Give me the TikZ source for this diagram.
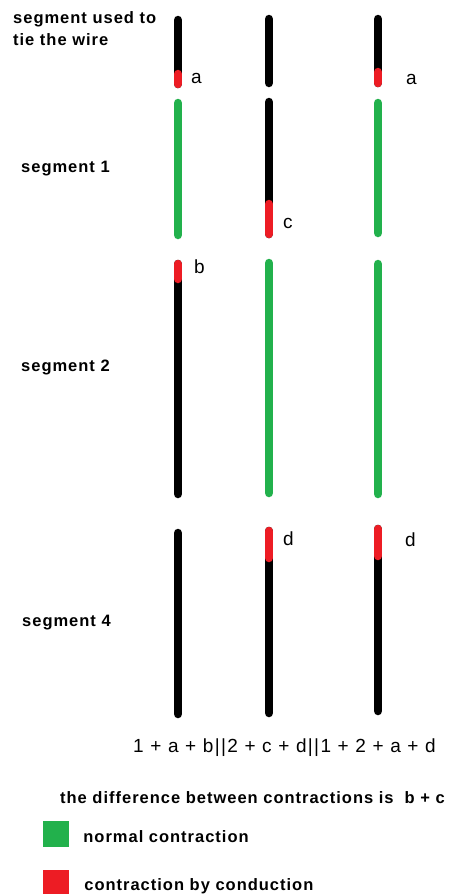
\documentclass[tikz,border=0pt]{standalone}
\usepackage{fontspec}
\setmainfont{Liberation Sans}
\newfontfamily\segfont[LetterSpace=6]{Liberation Sans}
\newfontfamily\sumfont[LetterSpace=7]{Liberation Sans}
\usepackage{tikz}
\usetikzlibrary{positioning}
\definecolor{normgreen}{RGB}{34,177,76}
\definecolor{condred}{RGB}{237,28,36}

\begin{document}
\begin{tikzpicture}[x=1pt,y=-1pt,inner sep=0pt]
 \tikzstyle{wire}=[line width=8.5pt, line cap=round]
 \tikzstyle{bare}=[wire, draw=black]
 \tikzstyle{norm}=[wire, draw=normgreen]
 \tikzstyle{cond}=[wire, draw=condred]
 \tikzstyle{seglbl}=[anchor=mid west, align=left, font=\segfont\bfseries\fontsize{16.5}{22}\selectfont]
 \tikzstyle{part}=[anchor=mid west, font=\sumfont\fontsize{19}{22}\selectfont]
 \tikzstyle{key}=[minimum width=26pt, minimum height=26pt]
 \useasboundingbox (0,0) rectangle (453,894);

 % segment used to tie the wire
 \draw[bare] (178,20) -- (178,84);
 \draw[cond] (178,74) -- (178,84);
 \draw[bare] (269,19) -- (269,83);
 \draw[bare] (378,19) -- (378,83);
 \draw[cond] (378,72) -- (378,83);

 % segment 1
 \draw[norm] (178,103) -- (178,235);
 \draw[bare] (269,102) -- (269,234);
 \draw[cond] (269,204) -- (269,234);
 \draw[norm] (378,103) -- (378,233);

 % segment 2
 \draw[bare] (178,264) -- (178,494);
 \draw[cond] (178,264) -- (178,279);
 \draw[norm] (269,263) -- (269,493);
 \draw[norm] (378,264) -- (378,494);

 % segment 4
 \draw[bare] (178,533) -- (178,714);
 \draw[bare] (269,531) -- (269,713);
 \draw[cond] (269,531) -- (269,558);
 \draw[bare] (378,529) -- (378,711);
 \draw[cond] (378,529) -- (378,556);

 \node[seglbl, anchor=north west] (Tie) at (13,11) {segment used to\\tie the wire};
 \node[seglbl] (Seg1) at (21,170) {segment 1};
 \node[seglbl] (Seg2) at (21,369) {segment 2};
 \node[seglbl] (Seg4) at (22,624) {segment 4};

 \node[part] (A1) at (191,81) {a};
 \node[part] (A3) at (406,82) {a};
 \node[part] (C2) at (283,226) {c};
 \node[part] (B1) at (194,271) {b};
 \node[part] (D2) at (283,543) {d};
 \node[part] (D3) at (405,544) {d};

 \node[part] (Sum) at (133,750) {1 + a + b||2 + c + d||1 + 2 + a + d};
 \node[seglbl] (Diff) at (60,801) {the difference between contractions is\ \ b + c};

 \node[key, fill=normgreen] (KeyNorm) at (56,834) {};
 \node[key, fill=condred]   (KeyCond) at (56,883) {};
 \node[seglbl, right=14pt of KeyNorm, yshift=-3pt] (NormTxt) {normal contraction};
 \node[seglbl, right=15pt of KeyCond, yshift=-3pt] (CondTxt) {contraction by conduction};
\end{tikzpicture}
\end{document}
